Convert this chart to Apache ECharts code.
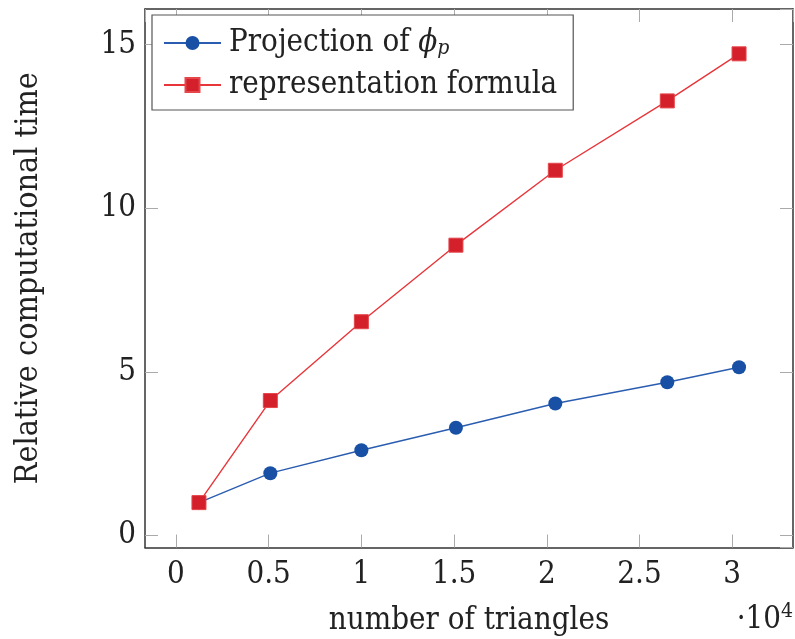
<!DOCTYPE html>
<html>
<head>
<meta charset="utf-8">
<script src="https://cdn.jsdelivr.net/npm/echarts@6/dist/echarts.min.js"></script>
<style>
  html, body { margin: 0; padding: 0; background: #fff; }
  #chart { width: 795px; height: 639px; }
</style>
</head>
<body>
<div id="chart"></div>
<script>
// Number of triangles (in units of 10^4)
const triangles = [0.124, 0.509, 1.0, 1.51, 2.046, 2.65, 3.037];
// Relative computational time for each method
const projectionTime = [1.0, 1.90, 2.60, 3.29, 4.03, 4.68, 5.14];
const representationTime = [1.0, 4.12, 6.53, 8.87, 11.16, 13.28, 14.72];

const seriesNames = ['Projection of φp', 'representation formula'];

const FONT = '"DejaVu Serif Condensed", "DejaVu Serif", serif';
const SIZE = 31;
const TEXT = '#222';
const FRAME = '#333';
const TICK = '#aaa';

const pairs = (xs, ys) => xs.map((x, i) => [x, ys[i]]);

const xRange = { min: -0.167, max: 3.328 };
const yRange = { min: -0.372, max: 16.09 };

function xAxisCfg(pos, labels) {
  return {
    type: 'value', position: pos, min: xRange.min, max: xRange.max, splitNumber: 6,
    axisLine: { show: true, onZero: false, lineStyle: { color: FRAME, width: 1.5 } },
    axisTick: { show: true, inside: true, length: 13, lineStyle: { color: TICK, width: 1 } },
    splitLine: { show: false },
    axisLabel: {
      show: labels, showMinLabel: false, showMaxLabel: false, margin: 12,
      fontFamily: FONT, fontSize: SIZE, color: TEXT,
      formatter: v => String(+v.toFixed(2))
    },
    name: labels ? 'number of triangles' : '',
    nameLocation: 'middle', nameGap: 58,
    nameTextStyle: { fontFamily: FONT, fontSize: SIZE, color: TEXT }
  };
}
function yAxisCfg(pos, labels) {
  return {
    type: 'value', position: pos, min: yRange.min, max: yRange.max, splitNumber: 3,
    axisLine: { show: true, onZero: false, lineStyle: { color: FRAME, width: 1.5 } },
    axisTick: { show: true, inside: true, length: 13, lineStyle: { color: TICK, width: 1 } },
    splitLine: { show: false },
    axisLabel: {
      show: labels, showMinLabel: false, showMaxLabel: false, margin: 9,
      fontFamily: FONT, fontSize: SIZE, color: TEXT
    },
    name: labels ? 'Relative computational time' : '',
    nameLocation: 'middle', nameGap: 100, nameRotate: 90,
    nameTextStyle: { fontFamily: FONT, fontSize: 32, color: TEXT }
  };
}

const chart = echarts.init(document.getElementById('chart'), null, { renderer: 'canvas' });
chart.setOption({
  animation: false,
  backgroundColor: '#fff',
  grid: { left: 145, right: 2, top: 9, bottom: 91.5, containLabel: false, outerBoundsMode: 'none' },
  xAxis: [xAxisCfg('bottom', true), xAxisCfg('top', false)],
  yAxis: [yAxisCfg('left', true), yAxisCfg('right', false)],
  legend: {
    orient: 'vertical', left: 152, top: 15,
    padding: [11, 16, 8, 11],
    itemWidth: 57, itemHeight: 17.5, itemGap: 8,
    borderColor: '#555', borderWidth: 1.2, backgroundColor: '#fff',
    data: seriesNames,
    formatter: name => name === seriesNames[0]
      ? 'Projection of {phi|ϕ}{sub|p}'
      : name,
    textStyle: {
      fontFamily: FONT, fontSize: SIZE, color: TEXT, lineHeight: 34, padding: [0, 0, 0, 3],
      rich: {
        phi: { fontFamily: FONT, fontSize: SIZE, fontStyle: 'italic', color: TEXT },
        sub: { fontFamily: FONT, fontSize: 21, fontStyle: 'italic', color: TEXT, padding: [12, 0, 0, 0] }
      }
    }
  },
  graphic: [{
    type: 'text', right: 2, top: 601,
    style: {
      text: '·10{sup|4}', fontFamily: FONT, fontSize: SIZE, fill: TEXT,
      rich: { sup: { fontFamily: FONT, fontSize: 21, fill: TEXT, padding: [0, 0, 16, 0] } }
    }
  }],
  series: [
    {
      name: seriesNames[0], type: 'line', xAxisIndex: 0, yAxisIndex: 0,
      data: pairs(triangles, projectionTime),
      symbol: 'circle', symbolSize: 14,
      lineStyle: { color: '#2a5db0', width: 1.4 },
      itemStyle: { color: '#1750a4' }
    },
    {
      name: seriesNames[1], type: 'line', xAxisIndex: 0, yAxisIndex: 0,
      data: pairs(triangles, representationTime),
      symbol: 'rect', symbolSize: 14,
      lineStyle: { color: '#e8353a', width: 1.4 },
      itemStyle: { color: '#d3202a', borderColor: '#e5454b', borderWidth: 1 }
    }
  ]
});
</script>
</body>
</html>
